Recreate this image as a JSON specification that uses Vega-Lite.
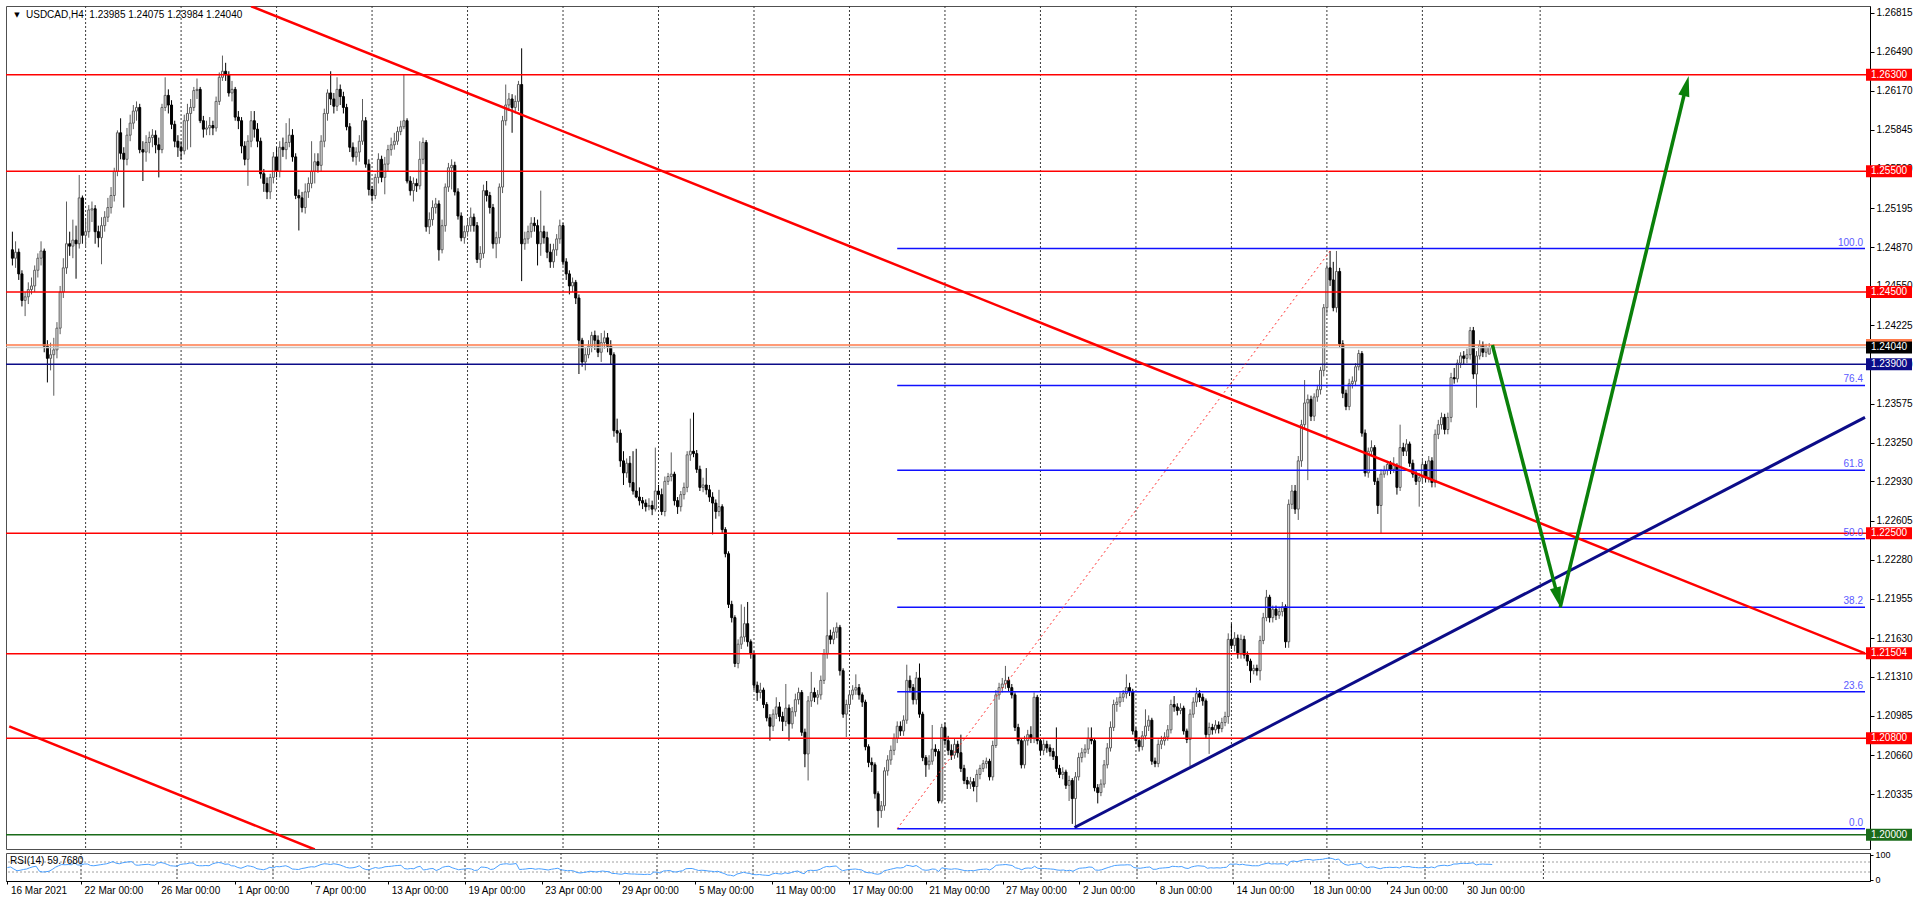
{
"$schema":"https://vega.github.io/schema/vega-lite/v6.json",
"background":"#ffffff",
"padding":{"left":4,"top":5,"right":0,"bottom":0},
"config":{"view":{"stroke":"#505050","strokeWidth":1},"axis":{"labelFont":"Liberation Sans","labelFontSize":10,"labelColor":"#000000","tickColor":"#000000","domainColor":"#000000","grid":false,"title":null}},
"spacing":4,
"bounds":"flush",
"datasets":{
"grid":[{"g":24},{"g":54},{"g":84},{"g":114},{"g":144},{"g":174},{"g":204},{"g":234},{"g":264},{"g":294},{"g":324},{"g":354},{"g":384},{"g":414},{"g":444},{"g":481}],
"hl":[{"p":1.263,"k":"r"},{"p":1.255,"k":"r"},{"p":1.245,"k":"r"},{"p":1.225,"k":"r"},{"p":1.215,"k":"r"},{"p":1.208,"k":"r"},{"p":1.239,"k":"n"},{"p":1.2,"k":"g"},{"p":1.2406,"k":"o"},{"p":1.2404,"k":"s"}],
"tags":[{"p":1.263,"s":"1.26300","k":"r"},{"p":1.255,"s":"1.25500","k":"r"},{"p":1.245,"s":"1.24500","k":"r"},{"p":1.2406,"s":"1.24060","k":"o"},{"p":1.2404,"s":"1.24040","k":"b"},{"p":1.239,"s":"1.23900","k":"n"},{"p":1.225,"s":"1.22500","k":"r"},{"p":1.21504,"s":"1.21504","k":"r"},{"p":1.208,"s":"1.20800","k":"r"},{"p":1.2,"s":"1.20000","k":"g"}],
"fib":[{"lv":"100.0","p":1.2486},{"lv":"76.4","p":1.23725},{"lv":"61.8","p":1.23023},{"lv":"50.0","p":1.22455},{"lv":"38.2","p":1.21887},{"lv":"23.6","p":1.21185},{"lv":"0.0","p":1.2005}],
"fd":[{"t":279,"p":1.2005},{"t":415.6,"p":1.2486}],
"dl":[{"t":76,"p":1.26869},{"t":583.0625,"p":1.21504}],
"ll":[{"t":0,"p":1.20899},{"t":96,"p":1.19878}],
"ul":[{"t":334.7,"p":1.2006},{"t":583.0625,"p":1.2346}],
"arrow":[{"seg":1,"t":466,"p":1.2406},{"seg":1,"t":486.6,"p":1.21966},{"seg":2,"t":487.3,"p":1.21885},{"seg":2,"t":526.9,"p":1.26208}],
"rl":[{"v":70},{"v":30}],
"c":[
{"t":1,"o":1.2485,"h":1.2500,"l":1.2472,"c":1.2478,"r":48},
{"t":2,"o":1.2478,"h":1.2492,"l":1.2470,"c":1.2483,"r":50},
{"t":3,"o":1.2483,"h":1.2486,"l":1.2460,"c":1.2465,"r":42},
{"t":4,"o":1.2465,"h":1.2468,"l":1.2438,"c":1.2443,"r":35},
{"t":5,"o":1.2443,"h":1.2450,"l":1.2430,"c":1.2446,"r":37},
{"t":6,"o":1.2446,"h":1.2458,"l":1.2440,"c":1.2452,"r":40},
{"t":7,"o":1.2452,"h":1.2462,"l":1.2448,"c":1.2455,"r":42},
{"t":8,"o":1.2455,"h":1.2472,"l":1.2450,"c":1.2468,"r":47},
{"t":9,"o":1.2468,"h":1.2482,"l":1.2462,"c":1.2478,"r":51},
{"t":10,"o":1.2478,"h":1.2492,"l":1.2472,"c":1.2484,"r":53},
{"t":11,"o":1.2484,"h":1.2486,"l":1.2400,"c":1.2405,"r":33},
{"t":12,"o":1.2405,"h":1.2410,"l":1.2375,"c":1.2395,"r":30},
{"t":13,"o":1.2395,"h":1.2408,"l":1.2385,"c":1.2398,"r":31},
{"t":14,"o":1.2398,"h":1.2412,"l":1.2364,"c":1.2402,"r":33},
{"t":15,"o":1.2402,"h":1.2425,"l":1.2395,"c":1.2420,"r":40},
{"t":16,"o":1.2420,"h":1.2455,"l":1.2415,"c":1.2450,"r":49},
{"t":17,"o":1.2450,"h":1.2478,"l":1.2445,"c":1.2470,"r":55},
{"t":18,"o":1.2470,"h":1.2525,"l":1.2465,"c":1.2490,"r":60},
{"t":19,"o":1.2490,"h":1.2500,"l":1.2480,"c":1.2488,"r":59},
{"t":20,"o":1.2488,"h":1.2510,"l":1.2478,"c":1.2493,"r":60},
{"t":21,"o":1.2493,"h":1.2505,"l":1.2461,"c":1.2490,"r":59},
{"t":22,"o":1.2490,"h":1.2547,"l":1.2486,"c":1.2528,"r":66},
{"t":23,"o":1.2528,"h":1.2530,"l":1.2490,"c":1.2497,"r":58},
{"t":24,"o":1.2497,"h":1.2510,"l":1.2487,"c":1.2500,"r":58},
{"t":25,"o":1.2500,"h":1.2522,"l":1.2495,"c":1.2518,"r":62},
{"t":26,"o":1.2518,"h":1.2525,"l":1.2508,"c":1.2519,"r":62},
{"t":27,"o":1.2519,"h":1.2522,"l":1.2490,"c":1.2500,"r":56},
{"t":28,"o":1.2500,"h":1.2505,"l":1.2487,"c":1.2495,"r":55},
{"t":29,"o":1.2495,"h":1.2512,"l":1.2473,"c":1.2505,"r":57},
{"t":30,"o":1.2505,"h":1.2517,"l":1.2500,"c":1.2512,"r":59},
{"t":31,"o":1.2512,"h":1.2528,"l":1.2508,"c":1.2520,"r":61},
{"t":32,"o":1.2520,"h":1.2537,"l":1.2515,"c":1.2530,"r":63},
{"t":33,"o":1.2530,"h":1.2553,"l":1.2525,"c":1.2550,"r":67},
{"t":34,"o":1.2550,"h":1.2584,"l":1.2546,"c":1.2582,"r":72},
{"t":35,"o":1.2582,"h":1.2594,"l":1.2560,"c":1.2565,"r":65},
{"t":36,"o":1.2565,"h":1.2570,"l":1.2520,"c":1.2560,"r":63},
{"t":37,"o":1.2560,"h":1.2586,"l":1.2555,"c":1.2580,"r":67},
{"t":38,"o":1.2580,"h":1.2597,"l":1.2575,"c":1.2590,"r":69},
{"t":39,"o":1.2590,"h":1.2605,"l":1.2585,"c":1.2600,"r":71},
{"t":40,"o":1.2600,"h":1.2608,"l":1.2592,"c":1.2603,"r":71},
{"t":41,"o":1.2603,"h":1.2606,"l":1.2565,"c":1.2568,"r":58},
{"t":42,"o":1.2568,"h":1.2575,"l":1.2542,"c":1.2566,"r":57},
{"t":43,"o":1.2566,"h":1.2580,"l":1.2558,"c":1.2574,"r":59},
{"t":44,"o":1.2574,"h":1.2583,"l":1.2565,"c":1.2578,"r":60},
{"t":45,"o":1.2578,"h":1.2585,"l":1.2570,"c":1.2580,"r":61},
{"t":46,"o":1.2580,"h":1.2584,"l":1.2565,"c":1.2572,"r":58},
{"t":47,"o":1.2572,"h":1.2578,"l":1.2545,"c":1.2568,"r":57},
{"t":48,"o":1.2568,"h":1.2606,"l":1.2565,"c":1.2603,"r":66},
{"t":49,"o":1.2603,"h":1.2628,"l":1.2600,"c":1.2613,"r":68},
{"t":50,"o":1.2613,"h":1.2618,"l":1.2598,"c":1.2605,"r":65},
{"t":51,"o":1.2605,"h":1.2609,"l":1.2585,"c":1.2589,"r":60},
{"t":52,"o":1.2589,"h":1.2592,"l":1.2570,"c":1.2575,"r":55},
{"t":53,"o":1.2575,"h":1.2580,"l":1.2562,"c":1.2570,"r":54},
{"t":54,"o":1.2570,"h":1.2575,"l":1.2560,"c":1.2567,"r":53},
{"t":55,"o":1.2567,"h":1.2597,"l":1.2564,"c":1.2592,"r":60},
{"t":56,"o":1.2592,"h":1.2606,"l":1.2568,"c":1.2598,"r":62},
{"t":57,"o":1.2598,"h":1.2610,"l":1.2570,"c":1.2603,"r":63},
{"t":58,"o":1.2603,"h":1.2620,"l":1.2600,"c":1.2617,"r":66},
{"t":59,"o":1.2617,"h":1.2627,"l":1.2610,"c":1.2618,"r":66},
{"t":60,"o":1.2618,"h":1.2620,"l":1.2590,"c":1.2592,"r":57},
{"t":61,"o":1.2592,"h":1.2596,"l":1.2578,"c":1.2585,"r":55},
{"t":62,"o":1.2585,"h":1.2592,"l":1.2580,"c":1.2586,"r":55},
{"t":63,"o":1.2586,"h":1.2595,"l":1.2580,"c":1.2588,"r":56},
{"t":64,"o":1.2588,"h":1.2592,"l":1.2580,"c":1.2586,"r":55},
{"t":65,"o":1.2586,"h":1.2612,"l":1.2583,"c":1.2608,"r":62},
{"t":66,"o":1.2608,"h":1.2632,"l":1.2605,"c":1.2628,"r":66},
{"t":67,"o":1.2628,"h":1.2646,"l":1.2625,"c":1.2633,"r":68},
{"t":68,"o":1.2633,"h":1.2640,"l":1.2625,"c":1.2630,"r":66},
{"t":69,"o":1.2630,"h":1.2633,"l":1.2612,"c":1.2615,"r":61},
{"t":70,"o":1.2615,"h":1.2625,"l":1.2608,"c":1.2618,"r":62},
{"t":71,"o":1.2618,"h":1.2620,"l":1.2592,"c":1.2595,"r":55},
{"t":72,"o":1.2595,"h":1.2600,"l":1.2585,"c":1.2592,"r":54},
{"t":73,"o":1.2592,"h":1.2595,"l":1.2565,"c":1.2571,"r":48},
{"t":74,"o":1.2571,"h":1.2575,"l":1.2555,"c":1.2560,"r":45},
{"t":75,"o":1.2560,"h":1.2580,"l":1.2538,"c":1.2575,"r":50},
{"t":76,"o":1.2575,"h":1.2600,"l":1.2570,"c":1.2592,"r":55},
{"t":77,"o":1.2592,"h":1.2600,"l":1.2578,"c":1.2585,"r":53},
{"t":78,"o":1.2585,"h":1.2590,"l":1.2570,"c":1.2575,"r":50},
{"t":79,"o":1.2575,"h":1.2578,"l":1.2544,"c":1.2548,"r":43},
{"t":80,"o":1.2548,"h":1.2552,"l":1.2533,"c":1.2540,"r":41},
{"t":81,"o":1.2540,"h":1.2545,"l":1.2527,"c":1.2533,"r":39},
{"t":82,"o":1.2533,"h":1.2548,"l":1.2527,"c":1.2545,"r":43},
{"t":83,"o":1.2545,"h":1.2566,"l":1.2540,"c":1.2562,"r":49},
{"t":84,"o":1.2562,"h":1.2570,"l":1.2545,"c":1.2550,"r":46},
{"t":85,"o":1.2550,"h":1.2575,"l":1.2545,"c":1.2570,"r":52},
{"t":86,"o":1.2570,"h":1.2578,"l":1.2562,"c":1.2568,"r":51},
{"t":87,"o":1.2568,"h":1.2590,"l":1.2560,"c":1.2574,"r":53},
{"t":88,"o":1.2574,"h":1.2594,"l":1.2570,"c":1.2580,"r":55},
{"t":89,"o":1.2580,"h":1.2585,"l":1.2558,"c":1.2562,"r":50},
{"t":90,"o":1.2562,"h":1.2565,"l":1.2527,"c":1.2530,"r":42},
{"t":91,"o":1.2530,"h":1.2535,"l":1.2501,"c":1.2528,"r":41},
{"t":92,"o":1.2528,"h":1.2533,"l":1.2516,"c":1.2520,"r":40},
{"t":93,"o":1.2520,"h":1.2540,"l":1.2515,"c":1.2533,"r":44},
{"t":94,"o":1.2533,"h":1.2545,"l":1.2528,"c":1.2540,"r":46},
{"t":95,"o":1.2540,"h":1.2575,"l":1.2536,"c":1.2550,"r":49},
{"t":96,"o":1.2550,"h":1.2565,"l":1.2540,"c":1.2558,"r":51},
{"t":97,"o":1.2558,"h":1.2565,"l":1.2549,"c":1.2555,"r":50},
{"t":98,"o":1.2555,"h":1.2580,"l":1.2550,"c":1.2575,"r":55},
{"t":99,"o":1.2575,"h":1.2602,"l":1.2570,"c":1.2598,"r":60},
{"t":100,"o":1.2598,"h":1.2618,"l":1.2592,"c":1.2615,"r":63},
{"t":101,"o":1.2615,"h":1.2633,"l":1.2605,"c":1.2610,"r":62},
{"t":102,"o":1.2610,"h":1.2615,"l":1.2598,"c":1.2604,"r":60},
{"t":103,"o":1.2604,"h":1.2628,"l":1.2600,"c":1.2618,"r":63},
{"t":104,"o":1.2618,"h":1.2622,"l":1.2605,"c":1.2612,"r":61},
{"t":105,"o":1.2612,"h":1.2616,"l":1.2598,"c":1.2603,"r":58},
{"t":106,"o":1.2603,"h":1.2606,"l":1.2584,"c":1.2587,"r":53},
{"t":107,"o":1.2587,"h":1.2590,"l":1.2566,"c":1.2570,"r":48},
{"t":108,"o":1.2570,"h":1.2574,"l":1.2558,"c":1.2562,"r":46},
{"t":109,"o":1.2562,"h":1.2570,"l":1.2555,"c":1.2566,"r":47},
{"t":110,"o":1.2566,"h":1.2580,"l":1.2558,"c":1.2575,"r":50},
{"t":111,"o":1.2575,"h":1.2610,"l":1.2572,"c":1.2592,"r":55},
{"t":112,"o":1.2592,"h":1.2595,"l":1.2553,"c":1.2556,"r":45},
{"t":113,"o":1.2556,"h":1.2560,"l":1.2530,"c":1.2535,"r":40},
{"t":114,"o":1.2535,"h":1.2538,"l":1.2525,"c":1.2530,"r":39},
{"t":115,"o":1.2530,"h":1.2548,"l":1.2527,"c":1.2545,"r":44},
{"t":116,"o":1.2545,"h":1.2565,"l":1.2540,"c":1.2560,"r":48},
{"t":117,"o":1.2560,"h":1.2563,"l":1.2541,"c":1.2545,"r":45},
{"t":118,"o":1.2545,"h":1.2562,"l":1.2531,"c":1.2556,"r":47},
{"t":119,"o":1.2556,"h":1.2572,"l":1.2550,"c":1.2568,"r":51},
{"t":120,"o":1.2568,"h":1.2578,"l":1.2563,"c":1.2572,"r":52},
{"t":121,"o":1.2572,"h":1.2582,"l":1.2568,"c":1.2575,"r":53},
{"t":122,"o":1.2575,"h":1.2587,"l":1.2572,"c":1.2583,"r":55},
{"t":123,"o":1.2583,"h":1.2592,"l":1.2580,"c":1.2587,"r":56},
{"t":124,"o":1.2587,"h":1.2630,"l":1.2585,"c":1.2592,"r":57},
{"t":125,"o":1.2592,"h":1.2594,"l":1.2540,"c":1.2542,"r":44},
{"t":126,"o":1.2542,"h":1.2546,"l":1.2530,"c":1.2534,"r":42},
{"t":127,"o":1.2534,"h":1.2545,"l":1.2525,"c":1.2540,"r":44},
{"t":128,"o":1.2540,"h":1.2544,"l":1.2533,"c":1.2538,"r":43},
{"t":129,"o":1.2538,"h":1.2575,"l":1.2535,"c":1.2560,"r":50},
{"t":130,"o":1.2560,"h":1.2578,"l":1.2556,"c":1.2574,"r":53},
{"t":131,"o":1.2574,"h":1.2576,"l":1.2500,"c":1.2504,"r":38},
{"t":132,"o":1.2504,"h":1.2516,"l":1.2498,"c":1.2510,"r":40},
{"t":133,"o":1.2510,"h":1.2526,"l":1.2505,"c":1.2520,"r":43},
{"t":134,"o":1.2520,"h":1.2528,"l":1.2515,"c":1.2523,"r":44},
{"t":135,"o":1.2523,"h":1.2526,"l":1.2476,"c":1.2485,"r":36},
{"t":136,"o":1.2485,"h":1.2510,"l":1.2482,"c":1.2505,"r":41},
{"t":137,"o":1.2505,"h":1.2540,"l":1.2500,"c":1.2537,"r":49},
{"t":138,"o":1.2537,"h":1.2557,"l":1.2533,"c":1.2553,"r":52},
{"t":139,"o":1.2553,"h":1.2560,"l":1.2535,"c":1.2555,"r":53},
{"t":140,"o":1.2555,"h":1.2558,"l":1.2530,"c":1.2533,"r":47},
{"t":141,"o":1.2533,"h":1.2536,"l":1.2510,"c":1.2513,"r":43},
{"t":142,"o":1.2513,"h":1.2516,"l":1.2492,"c":1.2495,"r":39},
{"t":143,"o":1.2495,"h":1.2505,"l":1.2490,"c":1.2500,"r":41},
{"t":144,"o":1.2500,"h":1.2510,"l":1.2496,"c":1.2505,"r":42},
{"t":145,"o":1.2505,"h":1.2520,"l":1.2500,"c":1.2512,"r":44},
{"t":146,"o":1.2512,"h":1.2515,"l":1.2500,"c":1.2505,"r":42},
{"t":147,"o":1.2505,"h":1.2508,"l":1.2474,"c":1.2477,"r":36},
{"t":148,"o":1.2477,"h":1.2488,"l":1.2470,"c":1.2482,"r":38},
{"t":149,"o":1.2482,"h":1.2539,"l":1.2478,"c":1.2534,"r":50},
{"t":150,"o":1.2534,"h":1.2542,"l":1.2525,"c":1.2530,"r":49},
{"t":151,"o":1.2530,"h":1.2533,"l":1.2515,"c":1.2520,"r":47},
{"t":152,"o":1.2520,"h":1.2523,"l":1.2486,"c":1.2490,"r":40},
{"t":153,"o":1.2490,"h":1.2500,"l":1.2478,"c":1.2495,"r":42},
{"t":154,"o":1.2495,"h":1.2540,"l":1.2490,"c":1.2537,"r":51},
{"t":155,"o":1.2537,"h":1.2596,"l":1.2532,"c":1.2592,"r":60},
{"t":156,"o":1.2592,"h":1.2622,"l":1.2588,"c":1.2605,"r":62},
{"t":157,"o":1.2605,"h":1.2615,"l":1.2600,"c":1.2610,"r":63},
{"t":158,"o":1.2610,"h":1.2614,"l":1.2582,"c":1.2603,"r":61},
{"t":159,"o":1.2603,"h":1.2613,"l":1.2598,"c":1.2608,"r":62},
{"t":160,"o":1.2608,"h":1.2625,"l":1.2600,"c":1.2622,"r":64},
{"t":161,"o":1.2622,"h":1.2652,"l":1.2459,"c":1.2490,"r":40},
{"t":162,"o":1.2490,"h":1.2500,"l":1.2485,"c":1.2494,"r":41},
{"t":163,"o":1.2494,"h":1.2505,"l":1.2490,"c":1.2500,"r":42},
{"t":164,"o":1.2500,"h":1.2512,"l":1.2495,"c":1.2507,"r":44},
{"t":165,"o":1.2507,"h":1.2512,"l":1.2500,"c":1.2505,"r":44},
{"t":166,"o":1.2505,"h":1.2510,"l":1.2472,"c":1.2490,"r":41},
{"t":167,"o":1.2490,"h":1.2534,"l":1.2480,"c":1.2500,"r":43},
{"t":168,"o":1.2500,"h":1.2505,"l":1.2490,"c":1.2495,"r":42},
{"t":169,"o":1.2495,"h":1.2500,"l":1.2478,"c":1.2483,"r":40},
{"t":170,"o":1.2483,"h":1.2490,"l":1.2470,"c":1.2475,"r":38},
{"t":171,"o":1.2475,"h":1.2490,"l":1.2470,"c":1.2485,"r":41},
{"t":172,"o":1.2485,"h":1.2498,"l":1.2480,"c":1.2494,"r":43},
{"t":173,"o":1.2494,"h":1.2510,"l":1.2490,"c":1.2505,"r":45},
{"t":174,"o":1.2505,"h":1.2507,"l":1.2472,"c":1.2475,"r":39},
{"t":175,"o":1.2475,"h":1.2478,"l":1.2460,"c":1.2465,"r":37},
{"t":176,"o":1.2465,"h":1.2468,"l":1.2448,"c":1.2455,"r":35},
{"t":177,"o":1.2455,"h":1.2462,"l":1.2450,"c":1.2458,"r":36},
{"t":178,"o":1.2458,"h":1.2460,"l":1.2440,"c":1.2445,"r":34},
{"t":179,"o":1.2445,"h":1.2448,"l":1.2382,"c":1.2410,"r":28},
{"t":180,"o":1.2410,"h":1.2412,"l":1.2388,"c":1.2392,"r":26},
{"t":181,"o":1.2392,"h":1.2404,"l":1.2385,"c":1.2398,"r":28},
{"t":182,"o":1.2398,"h":1.2410,"l":1.2395,"c":1.2405,"r":30},
{"t":183,"o":1.2405,"h":1.2417,"l":1.2400,"c":1.2414,"r":33},
{"t":184,"o":1.2414,"h":1.2418,"l":1.2402,"c":1.2410,"r":32},
{"t":185,"o":1.2410,"h":1.2414,"l":1.2396,"c":1.2400,"r":30},
{"t":186,"o":1.2400,"h":1.2416,"l":1.2392,"c":1.2408,"r":32},
{"t":187,"o":1.2408,"h":1.2418,"l":1.2403,"c":1.2412,"r":34},
{"t":188,"o":1.2412,"h":1.2416,"l":1.2400,"c":1.2405,"r":32},
{"t":189,"o":1.2405,"h":1.2410,"l":1.2390,"c":1.2398,"r":31},
{"t":190,"o":1.2398,"h":1.2400,"l":1.2330,"c":1.2335,"r":24},
{"t":191,"o":1.2335,"h":1.2345,"l":1.2325,"c":1.2333,"r":24},
{"t":192,"o":1.2333,"h":1.2336,"l":1.2305,"c":1.2310,"r":22},
{"t":193,"o":1.2310,"h":1.2318,"l":1.2290,"c":1.2300,"r":21},
{"t":194,"o":1.2300,"h":1.2312,"l":1.2296,"c":1.2308,"r":25},
{"t":195,"o":1.2308,"h":1.2314,"l":1.2288,"c":1.2292,"r":23},
{"t":196,"o":1.2292,"h":1.2318,"l":1.2282,"c":1.2285,"r":22},
{"t":197,"o":1.2285,"h":1.2320,"l":1.2279,"c":1.2280,"r":22},
{"t":198,"o":1.2280,"h":1.2288,"l":1.2273,"c":1.2277,"r":21},
{"t":199,"o":1.2277,"h":1.2280,"l":1.2270,"c":1.2275,"r":21},
{"t":200,"o":1.2275,"h":1.2278,"l":1.2268,"c":1.2272,"r":20},
{"t":201,"o":1.2272,"h":1.2279,"l":1.2269,"c":1.2273,"r":21},
{"t":202,"o":1.2273,"h":1.2277,"l":1.2265,"c":1.2270,"r":20},
{"t":203,"o":1.2270,"h":1.2321,"l":1.2268,"c":1.2285,"r":30},
{"t":204,"o":1.2285,"h":1.2290,"l":1.2278,"c":1.2282,"r":29},
{"t":205,"o":1.2282,"h":1.2287,"l":1.2265,"c":1.2268,"r":26},
{"t":206,"o":1.2268,"h":1.2297,"l":1.2264,"c":1.2293,"r":34},
{"t":207,"o":1.2293,"h":1.2300,"l":1.2290,"c":1.2297,"r":35},
{"t":208,"o":1.2297,"h":1.2317,"l":1.2293,"c":1.2299,"r":36},
{"t":209,"o":1.2299,"h":1.2301,"l":1.2273,"c":1.2277,"r":31},
{"t":210,"o":1.2277,"h":1.2280,"l":1.2266,"c":1.2272,"r":30},
{"t":211,"o":1.2272,"h":1.2285,"l":1.2268,"c":1.2282,"r":33},
{"t":212,"o":1.2282,"h":1.2292,"l":1.2278,"c":1.2288,"r":35},
{"t":213,"o":1.2288,"h":1.2318,"l":1.2284,"c":1.2315,"r":43},
{"t":214,"o":1.2315,"h":1.2345,"l":1.2310,"c":1.2318,"r":44},
{"t":215,"o":1.2318,"h":1.2350,"l":1.2313,"c":1.2316,"r":44},
{"t":216,"o":1.2316,"h":1.2319,"l":1.2300,"c":1.2303,"r":40},
{"t":217,"o":1.2303,"h":1.2306,"l":1.2285,"c":1.2288,"r":36},
{"t":218,"o":1.2288,"h":1.2296,"l":1.2284,"c":1.2290,"r":37},
{"t":219,"o":1.2290,"h":1.2304,"l":1.2282,"c":1.2286,"r":36},
{"t":220,"o":1.2286,"h":1.2290,"l":1.2276,"c":1.2280,"r":34},
{"t":221,"o":1.2280,"h":1.2284,"l":1.2249,"c":1.2275,"r":33},
{"t":222,"o":1.2275,"h":1.2278,"l":1.2262,"c":1.2268,"r":31},
{"t":223,"o":1.2268,"h":1.2286,"l":1.2264,"c":1.2272,"r":33},
{"t":224,"o":1.2272,"h":1.2274,"l":1.2250,"c":1.2253,"r":28},
{"t":225,"o":1.2253,"h":1.2255,"l":1.2230,"c":1.2233,"r":24},
{"t":226,"o":1.2233,"h":1.2235,"l":1.2188,"c":1.2191,"r":18},
{"t":227,"o":1.2191,"h":1.2194,"l":1.2176,"c":1.2180,"r":17},
{"t":228,"o":1.2180,"h":1.2182,"l":1.2139,"c":1.2142,"r":14},
{"t":229,"o":1.2142,"h":1.2162,"l":1.2138,"c":1.2158,"r":22},
{"t":230,"o":1.2158,"h":1.2191,"l":1.2154,"c":1.2164,"r":25},
{"t":231,"o":1.2164,"h":1.2189,"l":1.2160,"c":1.2175,"r":29},
{"t":232,"o":1.2175,"h":1.2193,"l":1.2156,"c":1.2160,"r":26},
{"t":233,"o":1.2160,"h":1.2162,"l":1.2146,"c":1.2150,"r":24},
{"t":234,"o":1.2150,"h":1.2152,"l":1.2120,"c":1.2124,"r":20},
{"t":235,"o":1.2124,"h":1.2127,"l":1.2111,"c":1.2118,"r":19},
{"t":236,"o":1.2118,"h":1.2126,"l":1.2113,"c":1.2120,"r":20},
{"t":237,"o":1.2120,"h":1.2122,"l":1.2105,"c":1.2108,"r":18},
{"t":238,"o":1.2108,"h":1.2110,"l":1.2094,"c":1.2097,"r":17},
{"t":239,"o":1.2097,"h":1.2100,"l":1.2078,"c":1.2090,"r":16},
{"t":240,"o":1.2090,"h":1.2104,"l":1.2086,"c":1.2100,"r":22},
{"t":241,"o":1.2100,"h":1.2114,"l":1.2096,"c":1.2106,"r":25},
{"t":242,"o":1.2106,"h":1.2110,"l":1.2094,"c":1.2098,"r":23},
{"t":243,"o":1.2098,"h":1.2102,"l":1.2086,"c":1.2094,"r":22},
{"t":244,"o":1.2094,"h":1.2125,"l":1.2090,"c":1.2105,"r":27},
{"t":245,"o":1.2105,"h":1.2108,"l":1.2078,"c":1.2092,"r":24},
{"t":246,"o":1.2092,"h":1.2106,"l":1.2088,"c":1.2102,"r":28},
{"t":247,"o":1.2102,"h":1.2117,"l":1.2098,"c":1.2112,"r":32},
{"t":248,"o":1.2112,"h":1.2122,"l":1.2108,"c":1.2118,"r":34},
{"t":249,"o":1.2118,"h":1.2120,"l":1.2082,"c":1.2085,"r":27},
{"t":250,"o":1.2085,"h":1.2088,"l":1.2056,"c":1.2067,"r":23},
{"t":251,"o":1.2067,"h":1.2115,"l":1.2045,"c":1.2111,"r":35},
{"t":252,"o":1.2111,"h":1.2135,"l":1.2106,"c":1.2118,"r":37},
{"t":253,"o":1.2118,"h":1.2122,"l":1.2110,"c":1.2114,"r":36},
{"t":254,"o":1.2114,"h":1.2120,"l":1.2108,"c":1.2116,"r":37},
{"t":255,"o":1.2116,"h":1.2132,"l":1.2112,"c":1.2128,"r":41},
{"t":256,"o":1.2128,"h":1.2154,"l":1.2125,"c":1.2150,"r":48},
{"t":257,"o":1.2150,"h":1.2201,"l":1.2146,"c":1.2165,"r":52},
{"t":258,"o":1.2165,"h":1.2170,"l":1.2158,"c":1.2162,"r":51},
{"t":259,"o":1.2162,"h":1.2172,"l":1.2158,"c":1.2168,"r":53},
{"t":260,"o":1.2168,"h":1.2176,"l":1.2163,"c":1.2172,"r":54},
{"t":261,"o":1.2172,"h":1.2174,"l":1.2132,"c":1.2136,"r":43},
{"t":262,"o":1.2136,"h":1.2138,"l":1.2097,"c":1.2100,"r":35},
{"t":263,"o":1.2100,"h":1.2112,"l":1.2081,"c":1.2108,"r":38},
{"t":264,"o":1.2108,"h":1.2120,"l":1.2104,"c":1.2116,"r":40},
{"t":265,"o":1.2116,"h":1.2124,"l":1.2112,"c":1.2120,"r":41},
{"t":266,"o":1.2120,"h":1.2133,"l":1.2116,"c":1.2122,"r":42},
{"t":267,"o":1.2122,"h":1.2125,"l":1.2112,"c":1.2116,"r":40},
{"t":268,"o":1.2116,"h":1.2118,"l":1.2106,"c":1.2110,"r":38},
{"t":269,"o":1.2110,"h":1.2112,"l":1.2070,"c":1.2073,"r":30},
{"t":270,"o":1.2073,"h":1.2075,"l":1.2056,"c":1.2060,"r":27},
{"t":271,"o":1.2060,"h":1.2064,"l":1.2052,"c":1.2058,"r":27},
{"t":272,"o":1.2058,"h":1.2060,"l":1.2030,"c":1.2034,"r":23},
{"t":273,"o":1.2034,"h":1.2036,"l":1.2006,"c":1.2020,"r":21},
{"t":274,"o":1.2020,"h":1.2028,"l":1.2014,"c":1.2024,"r":24},
{"t":275,"o":1.2024,"h":1.2056,"l":1.2020,"c":1.2053,"r":35},
{"t":276,"o":1.2053,"h":1.2066,"l":1.2049,"c":1.2062,"r":38},
{"t":277,"o":1.2062,"h":1.2074,"l":1.2058,"c":1.2070,"r":41},
{"t":278,"o":1.2070,"h":1.2084,"l":1.2066,"c":1.2080,"r":44},
{"t":279,"o":1.2080,"h":1.2094,"l":1.2076,"c":1.2090,"r":47},
{"t":280,"o":1.2090,"h":1.2094,"l":1.2082,"c":1.2086,"r":46},
{"t":281,"o":1.2086,"h":1.2099,"l":1.2082,"c":1.2095,"r":48},
{"t":282,"o":1.2095,"h":1.2141,"l":1.2092,"c":1.2128,"r":57},
{"t":283,"o":1.2128,"h":1.2132,"l":1.2118,"c":1.2122,"r":55},
{"t":284,"o":1.2122,"h":1.2125,"l":1.2108,"c":1.2112,"r":52},
{"t":285,"o":1.2112,"h":1.2135,"l":1.2108,"c":1.2130,"r":56},
{"t":286,"o":1.2130,"h":1.2142,"l":1.2097,"c":1.2100,"r":48},
{"t":287,"o":1.2100,"h":1.2102,"l":1.2061,"c":1.2064,"r":39},
{"t":288,"o":1.2064,"h":1.2066,"l":1.2048,"c":1.2058,"r":37},
{"t":289,"o":1.2058,"h":1.2066,"l":1.2054,"c":1.2061,"r":38},
{"t":290,"o":1.2061,"h":1.2091,"l":1.2058,"c":1.2071,"r":42},
{"t":291,"o":1.2071,"h":1.2075,"l":1.2065,"c":1.2069,"r":41},
{"t":292,"o":1.2069,"h":1.2071,"l":1.2026,"c":1.2028,"r":32},
{"t":293,"o":1.2028,"h":1.2092,"l":1.2026,"c":1.2089,"r":47},
{"t":294,"o":1.2089,"h":1.2093,"l":1.2074,"c":1.2078,"r":44},
{"t":295,"o":1.2078,"h":1.2082,"l":1.2066,"c":1.2070,"r":42},
{"t":296,"o":1.2070,"h":1.2075,"l":1.2062,"c":1.2066,"r":41},
{"t":297,"o":1.2066,"h":1.2080,"l":1.2063,"c":1.2075,"r":43},
{"t":298,"o":1.2075,"h":1.2078,"l":1.2064,"c":1.2068,"r":42},
{"t":299,"o":1.2068,"h":1.2083,"l":1.2052,"c":1.2055,"r":39},
{"t":300,"o":1.2055,"h":1.2058,"l":1.2042,"c":1.2045,"r":36},
{"t":301,"o":1.2045,"h":1.2048,"l":1.2038,"c":1.2042,"r":35},
{"t":302,"o":1.2042,"h":1.2048,"l":1.2038,"c":1.2044,"r":36},
{"t":303,"o":1.2044,"h":1.2047,"l":1.2036,"c":1.2040,"r":35},
{"t":304,"o":1.2040,"h":1.2054,"l":1.2027,"c":1.2050,"r":38},
{"t":305,"o":1.2050,"h":1.2058,"l":1.2046,"c":1.2055,"r":40},
{"t":306,"o":1.2055,"h":1.2062,"l":1.2052,"c":1.2059,"r":41},
{"t":307,"o":1.2059,"h":1.2064,"l":1.2055,"c":1.2061,"r":42},
{"t":308,"o":1.2061,"h":1.2063,"l":1.2045,"c":1.2048,"r":38},
{"t":309,"o":1.2048,"h":1.2078,"l":1.2045,"c":1.2074,"r":46},
{"t":310,"o":1.2074,"h":1.2120,"l":1.2072,"c":1.2116,"r":57},
{"t":311,"o":1.2116,"h":1.2126,"l":1.2112,"c":1.2122,"r":58},
{"t":312,"o":1.2122,"h":1.2130,"l":1.2118,"c":1.2125,"r":59},
{"t":313,"o":1.2125,"h":1.2140,"l":1.2121,"c":1.2128,"r":60},
{"t":314,"o":1.2128,"h":1.2131,"l":1.2119,"c":1.2122,"r":58},
{"t":315,"o":1.2122,"h":1.2125,"l":1.2113,"c":1.2116,"r":56},
{"t":316,"o":1.2116,"h":1.2118,"l":1.2086,"c":1.2089,"r":47},
{"t":317,"o":1.2089,"h":1.2092,"l":1.2075,"c":1.2078,"r":44},
{"t":318,"o":1.2078,"h":1.2080,"l":1.2055,"c":1.2058,"r":39},
{"t":319,"o":1.2058,"h":1.2082,"l":1.2055,"c":1.2078,"r":45},
{"t":320,"o":1.2078,"h":1.2087,"l":1.2074,"c":1.2083,"r":46},
{"t":321,"o":1.2083,"h":1.2090,"l":1.2076,"c":1.2080,"r":45},
{"t":322,"o":1.2080,"h":1.2118,"l":1.2076,"c":1.2114,"r":53},
{"t":323,"o":1.2114,"h":1.2116,"l":1.2075,"c":1.2078,"r":45},
{"t":324,"o":1.2078,"h":1.2080,"l":1.2066,"c":1.2070,"r":43},
{"t":325,"o":1.2070,"h":1.2079,"l":1.2066,"c":1.2075,"r":44},
{"t":326,"o":1.2075,"h":1.2078,"l":1.2068,"c":1.2072,"r":43},
{"t":327,"o":1.2072,"h":1.2075,"l":1.2065,"c":1.2069,"r":42},
{"t":328,"o":1.2069,"h":1.2072,"l":1.2062,"c":1.2065,"r":41},
{"t":329,"o":1.2065,"h":1.2089,"l":1.2052,"c":1.2055,"r":38},
{"t":330,"o":1.2055,"h":1.2058,"l":1.2047,"c":1.2050,"r":37},
{"t":331,"o":1.2050,"h":1.2056,"l":1.2046,"c":1.2052,"r":38},
{"t":332,"o":1.2052,"h":1.2054,"l":1.2038,"c":1.2041,"r":35},
{"t":333,"o":1.2041,"h":1.2049,"l":1.2028,"c":1.2045,"r":37},
{"t":334,"o":1.2045,"h":1.2047,"l":1.2009,"c":1.2030,"r":33},
{"t":335,"o":1.2030,"h":1.2052,"l":1.2006,"c":1.2048,"r":40},
{"t":336,"o":1.2048,"h":1.2068,"l":1.2045,"c":1.2064,"r":45},
{"t":337,"o":1.2064,"h":1.2072,"l":1.2060,"c":1.2068,"r":46},
{"t":338,"o":1.2068,"h":1.2075,"l":1.2064,"c":1.2071,"r":47},
{"t":339,"o":1.2071,"h":1.2089,"l":1.2067,"c":1.2080,"r":50},
{"t":340,"o":1.2080,"h":1.2089,"l":1.2075,"c":1.2078,"r":49},
{"t":341,"o":1.2078,"h":1.2080,"l":1.2036,"c":1.2039,"r":38},
{"t":342,"o":1.2039,"h":1.2042,"l":1.2026,"c":1.2035,"r":37},
{"t":343,"o":1.2035,"h":1.2046,"l":1.2032,"c":1.2042,"r":39},
{"t":344,"o":1.2042,"h":1.2062,"l":1.2039,"c":1.2058,"r":44},
{"t":345,"o":1.2058,"h":1.2076,"l":1.2055,"c":1.2072,"r":48},
{"t":346,"o":1.2072,"h":1.2094,"l":1.2069,"c":1.2089,"r":52},
{"t":347,"o":1.2089,"h":1.2112,"l":1.2086,"c":1.2108,"r":56},
{"t":348,"o":1.2108,"h":1.2114,"l":1.2102,"c":1.2110,"r":57},
{"t":349,"o":1.2110,"h":1.2118,"l":1.2106,"c":1.2114,"r":58},
{"t":350,"o":1.2114,"h":1.2120,"l":1.2110,"c":1.2117,"r":58},
{"t":351,"o":1.2117,"h":1.2133,"l":1.2113,"c":1.2122,"r":59},
{"t":352,"o":1.2122,"h":1.2126,"l":1.2115,"c":1.2119,"r":58},
{"t":353,"o":1.2119,"h":1.2121,"l":1.2083,"c":1.2086,"r":48},
{"t":354,"o":1.2086,"h":1.2089,"l":1.2075,"c":1.2078,"r":46},
{"t":355,"o":1.2078,"h":1.2081,"l":1.2069,"c":1.2073,"r":45},
{"t":356,"o":1.2073,"h":1.2086,"l":1.2070,"c":1.2082,"r":47},
{"t":357,"o":1.2082,"h":1.2104,"l":1.2079,"c":1.2090,"r":49},
{"t":358,"o":1.2090,"h":1.2099,"l":1.2086,"c":1.2095,"r":50},
{"t":359,"o":1.2095,"h":1.2097,"l":1.2058,"c":1.2061,"r":41},
{"t":360,"o":1.2061,"h":1.2064,"l":1.2056,"c":1.2059,"r":41},
{"t":361,"o":1.2059,"h":1.2079,"l":1.2056,"c":1.2075,"r":45},
{"t":362,"o":1.2075,"h":1.2082,"l":1.2071,"c":1.2078,"r":46},
{"t":363,"o":1.2078,"h":1.2085,"l":1.2074,"c":1.2081,"r":47},
{"t":364,"o":1.2081,"h":1.2091,"l":1.2078,"c":1.2087,"r":48},
{"t":365,"o":1.2087,"h":1.2112,"l":1.2084,"c":1.2108,"r":53},
{"t":366,"o":1.2108,"h":1.2115,"l":1.2102,"c":1.2106,"r":52},
{"t":367,"o":1.2106,"h":1.2109,"l":1.2099,"c":1.2103,"r":51},
{"t":368,"o":1.2103,"h":1.2109,"l":1.2100,"c":1.2105,"r":52},
{"t":369,"o":1.2105,"h":1.2107,"l":1.2083,"c":1.2086,"r":46},
{"t":370,"o":1.2086,"h":1.2088,"l":1.2076,"c":1.2079,"r":44},
{"t":371,"o":1.2079,"h":1.2104,"l":1.2057,"c":1.2100,"r":50},
{"t":372,"o":1.2100,"h":1.2114,"l":1.2097,"c":1.2110,"r":53},
{"t":373,"o":1.2110,"h":1.2122,"l":1.2106,"c":1.2117,"r":55},
{"t":374,"o":1.2117,"h":1.2120,"l":1.2110,"c":1.2114,"r":54},
{"t":375,"o":1.2114,"h":1.2117,"l":1.2107,"c":1.2111,"r":53},
{"t":376,"o":1.2111,"h":1.2113,"l":1.2080,"c":1.2083,"r":45},
{"t":377,"o":1.2083,"h":1.2093,"l":1.2067,"c":1.2089,"r":47},
{"t":378,"o":1.2089,"h":1.2092,"l":1.2083,"c":1.2087,"r":46},
{"t":379,"o":1.2087,"h":1.2095,"l":1.2084,"c":1.2091,"r":47},
{"t":380,"o":1.2091,"h":1.2094,"l":1.2084,"c":1.2088,"r":46},
{"t":381,"o":1.2088,"h":1.2097,"l":1.2085,"c":1.2093,"r":48},
{"t":382,"o":1.2093,"h":1.2102,"l":1.2090,"c":1.2098,"r":49},
{"t":383,"o":1.2098,"h":1.2167,"l":1.2092,"c":1.2162,"r":62},
{"t":384,"o":1.2162,"h":1.2175,"l":1.2154,"c":1.2157,"r":61},
{"t":385,"o":1.2157,"h":1.2168,"l":1.2152,"c":1.2163,"r":62},
{"t":386,"o":1.2163,"h":1.2166,"l":1.2146,"c":1.2150,"r":59},
{"t":387,"o":1.2150,"h":1.2166,"l":1.2146,"c":1.2162,"r":61},
{"t":388,"o":1.2162,"h":1.2165,"l":1.2146,"c":1.2149,"r":58},
{"t":389,"o":1.2149,"h":1.2152,"l":1.2140,"c":1.2144,"r":57},
{"t":390,"o":1.2144,"h":1.2146,"l":1.2126,"c":1.2136,"r":55},
{"t":391,"o":1.2136,"h":1.2141,"l":1.2133,"c":1.2138,"r":55},
{"t":392,"o":1.2138,"h":1.2141,"l":1.2132,"c":1.2136,"r":55},
{"t":393,"o":1.2136,"h":1.2165,"l":1.2128,"c":1.2161,"r":60},
{"t":394,"o":1.2161,"h":1.2184,"l":1.2158,"c":1.2180,"r":63},
{"t":395,"o":1.2180,"h":1.2203,"l":1.2177,"c":1.2197,"r":66},
{"t":396,"o":1.2197,"h":1.2199,"l":1.2176,"c":1.2180,"r":62},
{"t":397,"o":1.2180,"h":1.2190,"l":1.2176,"c":1.2187,"r":63},
{"t":398,"o":1.2187,"h":1.2190,"l":1.2178,"c":1.2182,"r":62},
{"t":399,"o":1.2182,"h":1.2189,"l":1.2179,"c":1.2185,"r":63},
{"t":400,"o":1.2185,"h":1.2193,"l":1.2181,"c":1.2189,"r":63},
{"t":401,"o":1.2189,"h":1.2191,"l":1.2155,"c":1.2160,"r":56},
{"t":402,"o":1.2160,"h":1.2278,"l":1.2155,"c":1.2274,"r":72},
{"t":403,"o":1.2274,"h":1.2290,"l":1.2270,"c":1.2285,"r":74},
{"t":404,"o":1.2285,"h":1.2290,"l":1.2266,"c":1.2270,"r":71},
{"t":405,"o":1.2270,"h":1.2314,"l":1.2261,"c":1.2310,"r":75},
{"t":406,"o":1.2310,"h":1.2344,"l":1.2305,"c":1.2340,"r":78},
{"t":407,"o":1.2340,"h":1.2377,"l":1.2336,"c":1.2358,"r":80},
{"t":408,"o":1.2358,"h":1.2365,"l":1.2294,"c":1.2361,"r":80},
{"t":409,"o":1.2361,"h":1.2364,"l":1.2343,"c":1.2347,"r":77},
{"t":410,"o":1.2347,"h":1.2366,"l":1.2343,"c":1.2363,"r":79},
{"t":411,"o":1.2363,"h":1.2373,"l":1.2359,"c":1.2369,"r":80},
{"t":412,"o":1.2369,"h":1.2388,"l":1.2365,"c":1.2385,"r":81},
{"t":413,"o":1.2385,"h":1.2440,"l":1.2380,"c":1.2437,"r":84},
{"t":414,"o":1.2437,"h":1.2473,"l":1.2432,"c":1.2470,"r":86},
{"t":415,"o":1.2470,"h":1.2484,"l":1.2455,"c":1.2460,"r":84},
{"t":416,"o":1.2460,"h":1.2475,"l":1.2434,"c":1.2437,"r":79},
{"t":417,"o":1.2437,"h":1.2484,"l":1.2433,"c":1.2467,"r":82},
{"t":418,"o":1.2467,"h":1.2470,"l":1.2404,"c":1.2407,"r":68},
{"t":419,"o":1.2407,"h":1.2410,"l":1.2362,"c":1.2366,"r":60},
{"t":420,"o":1.2366,"h":1.2369,"l":1.2352,"c":1.2355,"r":57},
{"t":421,"o":1.2355,"h":1.2378,"l":1.2352,"c":1.2374,"r":60},
{"t":422,"o":1.2374,"h":1.2380,"l":1.2370,"c":1.2376,"r":61},
{"t":423,"o":1.2376,"h":1.2391,"l":1.2372,"c":1.2388,"r":63},
{"t":424,"o":1.2388,"h":1.2402,"l":1.2385,"c":1.2399,"r":64},
{"t":425,"o":1.2399,"h":1.2401,"l":1.2330,"c":1.2333,"r":52},
{"t":426,"o":1.2333,"h":1.2336,"l":1.2297,"c":1.2300,"r":47},
{"t":427,"o":1.2300,"h":1.2321,"l":1.2296,"c":1.2318,"r":50},
{"t":428,"o":1.2318,"h":1.2327,"l":1.2314,"c":1.2321,"r":50},
{"t":429,"o":1.2321,"h":1.2323,"l":1.2290,"c":1.2293,"r":46},
{"t":430,"o":1.2293,"h":1.2296,"l":1.2266,"c":1.2273,"r":43},
{"t":431,"o":1.2273,"h":1.2303,"l":1.2250,"c":1.2299,"r":47},
{"t":432,"o":1.2299,"h":1.2306,"l":1.2296,"c":1.2302,"r":48},
{"t":433,"o":1.2302,"h":1.2310,"l":1.2298,"c":1.2307,"r":49},
{"t":434,"o":1.2307,"h":1.2310,"l":1.2299,"c":1.2303,"r":48},
{"t":435,"o":1.2303,"h":1.2313,"l":1.2300,"c":1.2306,"r":49},
{"t":436,"o":1.2306,"h":1.2308,"l":1.2282,"c":1.2288,"r":46},
{"t":437,"o":1.2288,"h":1.2340,"l":1.2285,"c":1.2321,"r":52},
{"t":438,"o":1.2321,"h":1.2325,"l":1.2314,"c":1.2318,"r":51},
{"t":439,"o":1.2318,"h":1.2328,"l":1.2314,"c":1.2324,"r":52},
{"t":440,"o":1.2324,"h":1.2326,"l":1.2305,"c":1.2308,"r":49},
{"t":441,"o":1.2308,"h":1.2311,"l":1.2296,"c":1.2299,"r":48},
{"t":442,"o":1.2299,"h":1.2302,"l":1.2290,"c":1.2293,"r":47},
{"t":443,"o":1.2293,"h":1.2300,"l":1.2272,"c":1.2296,"r":47},
{"t":444,"o":1.2296,"h":1.2311,"l":1.2292,"c":1.2307,"r":49},
{"t":445,"o":1.2307,"h":1.2310,"l":1.2292,"c":1.2296,"r":47},
{"t":446,"o":1.2296,"h":1.2314,"l":1.2292,"c":1.2310,"r":50},
{"t":447,"o":1.2310,"h":1.2313,"l":1.2288,"c":1.2292,"r":47},
{"t":448,"o":1.2292,"h":1.2336,"l":1.2288,"c":1.2332,"r":54},
{"t":449,"o":1.2332,"h":1.2344,"l":1.2328,"c":1.2340,"r":56},
{"t":450,"o":1.2340,"h":1.2350,"l":1.2336,"c":1.2346,"r":57},
{"t":451,"o":1.2346,"h":1.2349,"l":1.2332,"c":1.2336,"r":55},
{"t":452,"o":1.2336,"h":1.2350,"l":1.2332,"c":1.2346,"r":57},
{"t":453,"o":1.2346,"h":1.2383,"l":1.2342,"c":1.2379,"r":62},
{"t":454,"o":1.2379,"h":1.2387,"l":1.2374,"c":1.2378,"r":62},
{"t":455,"o":1.2378,"h":1.2394,"l":1.2375,"c":1.2391,"r":64},
{"t":456,"o":1.2391,"h":1.2400,"l":1.2387,"c":1.2397,"r":65},
{"t":457,"o":1.2397,"h":1.2401,"l":1.2390,"c":1.2395,"r":64},
{"t":458,"o":1.2395,"h":1.2403,"l":1.2391,"c":1.2398,"r":65},
{"t":459,"o":1.2398,"h":1.2421,"l":1.2394,"c":1.2418,"r":67},
{"t":460,"o":1.2418,"h":1.2421,"l":1.2378,"c":1.2382,"r":58},
{"t":461,"o":1.2382,"h":1.2401,"l":1.2354,"c":1.2397,"r":61},
{"t":462,"o":1.2397,"h":1.2410,"l":1.2394,"c":1.2406,"r":62},
{"t":463,"o":1.2406,"h":1.2409,"l":1.2396,"c":1.2400,"r":61},
{"t":464,"o":1.2400,"h":1.2407,"l":1.2396,"c":1.2404,"r":61},
{"t":465,"o":1.23985,"h":1.24075,"l":1.23984,"c":1.2404,"r":59.768}
]
},
"vconcat":[
{
"width":1864,"height":843,
"layer":[
{"data":{"name":"grid"},"mark":{"type":"rule","strokeDash":[2,2],"color":"#3a3a3a","strokeWidth":1},
 "encoding":{"x":{"field":"g","type":"quantitative","scale":{"domain":[0.5625,583.0625],"nice":false,"zero":false},"axis":null}}},
{"data":{"name":"c"},"mark":{"type":"rule","strokeWidth":1},
 "encoding":{"x":{"field":"t","type":"quantitative"},
  "y":{"field":"l","type":"quantitative","scale":{"domain":[1.19882,1.26871],"nice":false,"zero":false},
   "axis":{"orient":"right","values":[1.26815,1.2649,1.2617,1.25845,1.2552,1.25195,1.2487,1.2455,1.24225,1.239,1.23575,1.2325,1.2293,1.22605,1.2228,1.21955,1.2163,1.2131,1.20985,1.2066,1.20335],"format":".5f","tickSize":4,"labelPadding":2,"labelFlush":false,"labelOverlap":false,"zindex":0,"title":null,"grid":false}},
  "y2":{"field":"h"},
  "color":{"condition":{"test":"datum.c >= datum.o","value":"#5c5c5c"},"value":"#000000"}}},
{"data":{"name":"c"},"mark":{"type":"bar","width":2,"strokeWidth":1},
 "encoding":{"x":{"field":"t","type":"quantitative"},"y":{"field":"o","type":"quantitative"},"y2":{"field":"c"},
  "fill":{"condition":{"test":"datum.c >= datum.o","value":"#f2f2f2"},"value":"#000000"},
  "stroke":{"condition":{"test":"datum.c >= datum.o","value":"#5c5c5c"},"value":"#000000"}}},
{"data":{"name":"hl"},"mark":{"type":"rule","strokeWidth":1.5},
 "encoding":{"y":{"field":"p","type":"quantitative"},
  "color":{"field":"k","type":"nominal","scale":{"domain":["r","n","g","b","o","s"],"range":["#ff0000","#0c0c88","#1a6b1a","#000000","#ff7a4a","#c8c8c8"]},"legend":null}}},
{"data":{"name":"fib"},"mark":{"type":"rule","strokeWidth":1.5,"color":"#1010ff"},
 "encoding":{"x":{"datum":279},"x2":{"datum":583.0625},"y":{"field":"p","type":"quantitative"}}},
{"data":{"name":"fib"},"mark":{"type":"text","align":"right","baseline":"bottom","dx":-2,"dy":-1,"font":"Liberation Sans","fontSize":10,"color":"#5a5aff"},
 "encoding":{"x":{"datum":583.0625},"y":{"field":"p","type":"quantitative"},"text":{"field":"lv"}}},
{"data":{"name":"fd"},"mark":{"type":"line","color":"#ff3030","strokeWidth":1,"strokeDash":[2,3],"clip":true},
 "encoding":{"x":{"field":"t","type":"quantitative"},"y":{"field":"p","type":"quantitative"}}},
{"data":{"name":"dl"},"mark":{"type":"line","color":"#ff0000","strokeWidth":2.5,"clip":true},
 "encoding":{"x":{"field":"t","type":"quantitative"},"y":{"field":"p","type":"quantitative"}}},
{"data":{"name":"ll"},"mark":{"type":"line","color":"#ff0000","strokeWidth":2.5,"clip":true},
 "encoding":{"x":{"field":"t","type":"quantitative"},"y":{"field":"p","type":"quantitative"}}},
{"data":{"name":"ul"},"mark":{"type":"line","color":"#0c0c88","strokeWidth":3,"clip":true},
 "encoding":{"x":{"field":"t","type":"quantitative"},"y":{"field":"p","type":"quantitative"}}},
{"data":{"name":"arrow"},"mark":{"type":"line","color":"#0a800a","strokeWidth":3.5},
 "encoding":{"x":{"field":"t","type":"quantitative"},"y":{"field":"p","type":"quantitative"},"detail":{"field":"seg"}}},
{"data":{"values":[{"a":1}]},"mark":{"type":"point","shape":"M0,-1L0.55,1L-0.55,1Z","filled":true,"size":420,"angle":165.25,"color":"#0a800a","opacity":1},
 "encoding":{"x":{"datum":486.6},"y":{"datum":1.21966}}},
{"data":{"values":[{"a":1}]},"mark":{"type":"point","shape":"M0,-1L0.55,1L-0.55,1Z","filled":true,"size":420,"angle":13.65,"color":"#0a800a","opacity":1},
 "encoding":{"x":{"datum":526.9},"y":{"datum":1.26208}}},
{"data":{"name":"tags"},"mark":{"type":"rect","xOffset":1,"x2Offset":47,"yOffset":-6,"y2Offset":6,"clip":false},
 "encoding":{"x":{"datum":583.0625},"x2":{"datum":583.0625},"y":{"field":"p","type":"quantitative"},"y2":{"field":"p"},
  "color":{"field":"k","type":"nominal","legend":null}}},
{"data":{"name":"tags"},"transform":[{"filter":"datum.k != 'o'"}],"mark":{"type":"text","align":"center","baseline":"middle","dx":24,"font":"Liberation Sans","fontSize":10,"color":"#ffffff"},
 "encoding":{"x":{"datum":583.0625},"y":{"field":"p","type":"quantitative"},"text":{"field":"s"}}},
{"data":{"values":[{"s":"▼"}]},"mark":{"type":"text","align":"center","baseline":"middle","dx":6,"dy":9,"font":"DejaVu Sans","fontSize":7,"color":"#000000"},
 "encoding":{"x":{"datum":0.5625},"y":{"datum":1.26871},"text":{"field":"s"}}},
{"data":{"values":[{"s":"USDCAD,H4\u00a0\u00a01.23985 1.24075 1.23984 1.24040"}]},"mark":{"type":"text","align":"left","baseline":"middle","dx":15,"dy":9,"font":"Liberation Sans","fontSize":10,"color":"#000000"},
 "encoding":{"x":{"datum":0.5625},"y":{"datum":1.26871},"text":{"field":"s"}}}
]
},
{
"width":1864,"height":28,
"layer":[
{"data":{"name":"grid"},"mark":{"type":"rule","strokeDash":[2,2],"color":"#3a3a3a","strokeWidth":1},
 "encoding":{"x":{"field":"g","type":"quantitative","scale":{"domain":[0.5625,583.0625],"nice":false,"zero":false},
  "axis":{"orient":"bottom","values":[1,24,48,72,96,120,144,168,192,216,240,264,288,312,336,360,384,408,432,456],
   "labelExpr":"['16 Mar 2021','22 Mar 00:00','26 Mar 00:00','1 Apr 00:00','7 Apr 00:00','13 Apr 00:00','19 Apr 00:00','23 Apr 00:00','29 Apr 00:00','5 May 00:00','11 May 00:00','17 May 00:00','21 May 00:00','27 May 00:00','2 Jun 00:00','8 Jun 00:00','14 Jun 00:00','18 Jun 00:00','24 Jun 00:00','30 Jun 00:00'][datum.value < 24 ? 0 : datum.value / 24]",
   "labelAlign":"left","labelOffset":3,"tickSize":3,"labelPadding":1,"labelFlush":false,"labelOverlap":false,"title":null,"grid":false}}}},
{"data":{"name":"rl"},"mark":{"type":"rule","strokeDash":[2,2],"color":"#a0a0a0","strokeWidth":1},
 "encoding":{"y":{"field":"v","type":"quantitative","scale":{"domain":[-6,106],"nice":false,"zero":false},
  "axis":{"orient":"right","values":[100,70,30,0],"tickSize":3,"labelPadding":2,"labelFontSize":9,"labelFlush":false,"labelOverlap":false,"title":null,"grid":false}}}},
{"data":{"name":"c"},"mark":{"type":"line","color":"#4aa0ff","strokeWidth":1},
 "encoding":{"x":{"field":"t","type":"quantitative"},"y":{"field":"r","type":"quantitative"}}},
{"data":{"values":[{"s":"RSI(14) 59.7680"}]},"mark":{"type":"text","align":"left","baseline":"middle","dx":4,"dy":8,"font":"Liberation Sans","fontSize":10,"color":"#000000"},
 "encoding":{"x":{"datum":0.5625},"y":{"datum":106},"text":{"field":"s"}}}
]
}
]
}
